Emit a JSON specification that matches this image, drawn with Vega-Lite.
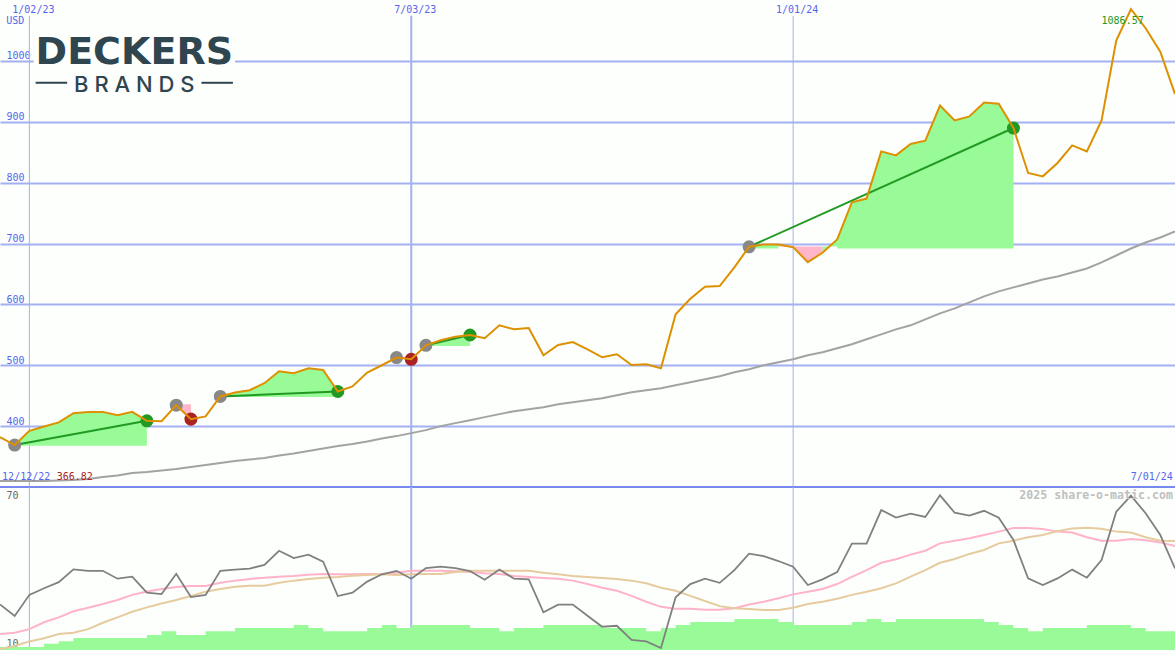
{
  "$schema": "https://vega.github.io/schema/vega-lite/v6.json",
  "width": 1175,
  "height": 650,
  "padding": 0,
  "autosize": {"type": "none"},
  "background": "#fdfffc",
  "config": {
    "view": {"stroke": null},
    "axis": {"ticks": false, "domain": false, "labelFont": "DejaVu Sans Mono", "labelFontSize": 10, "labelOverlap": false, "labelFlush": false, "labelBound": false}
  },
  "datasets": {
    "weekly": [
      {"date":"2022-12-19","price":382,"ma":309.8,"rsi":27.4,"fast":15.3,"slow":9.2,"vol":10},
      {"date":"2022-12-26","price":368.9,"ma":309.8,"rsi":22.7,"fast":15.8,"slow":10.4,"vol":10},
      {"date":"2023-01-02","price":392.3,"ma":309.8,"rsi":31.3,"fast":17.3,"slow":12.3,"vol":10},
      {"date":"2023-01-09","price":399.5,"ma":309.8,"rsi":34,"fast":20.1,"slow":13.6,"vol":11.3},
      {"date":"2023-01-16","price":406.1,"ma":310.7,"rsi":36.5,"fast":22.1,"slow":15.3,"vol":12.4},
      {"date":"2023-01-23","price":421.3,"ma":311.5,"rsi":41.7,"fast":24.6,"slow":15.8,"vol":13.7},
      {"date":"2023-01-30","price":423.4,"ma":313.1,"rsi":41.1,"fast":26,"slow":17.3,"vol":13.7},
      {"date":"2023-02-06","price":423.4,"ma":316.4,"rsi":41.1,"fast":27.6,"slow":19.9,"vol":13.7},
      {"date":"2023-02-13","price":418,"ma":318.9,"rsi":37.9,"fast":29.2,"slow":22.1,"vol":13.7},
      {"date":"2023-02-20","price":423.4,"ma":323,"rsi":38.7,"fast":31.3,"slow":24.4,"vol":13.7},
      {"date":"2023-02-27","price":408.7,"ma":324.6,"rsi":32.2,"fast":32.7,"slow":26.2,"vol":14.9},
      {"date":"2023-03-06","price":408.2,"ma":327,"rsi":31.6,"fast":33.7,"slow":27.8,"vol":16.5},
      {"date":"2023-03-13","price":434.4,"ma":329.5,"rsi":39.9,"fast":34.5,"slow":29.2,"vol":14.9},
      {"date":"2023-03-20","price":411.5,"ma":332.8,"rsi":30.4,"fast":34.9,"slow":30.8,"vol":14.9},
      {"date":"2023-03-27","price":415.9,"ma":336.1,"rsi":31.3,"fast":34.9,"slow":32.6,"vol":16.5},
      {"date":"2023-04-03","price":448.7,"ma":339.3,"rsi":41.1,"fast":36.2,"slow":33.7,"vol":16.5},
      {"date":"2023-04-10","price":455.2,"ma":342.6,"rsi":41.6,"fast":37.1,"slow":34.6,"vol":17.8},
      {"date":"2023-04-17","price":459,"ma":345.1,"rsi":42,"fast":37.8,"slow":35,"vol":17.8},
      {"date":"2023-04-24","price":470.5,"ma":347.5,"rsi":43.5,"fast":38.3,"slow":35,"vol":17.8},
      {"date":"2023-05-01","price":490.2,"ma":351.6,"rsi":49.3,"fast":38.7,"slow":36.2,"vol":17.8},
      {"date":"2023-05-08","price":486.9,"ma":354.9,"rsi":46.3,"fast":39,"slow":37.1,"vol":19},
      {"date":"2023-05-15","price":495,"ma":359,"rsi":47.7,"fast":39.5,"slow":37.8,"vol":17.8},
      {"date":"2023-05-22","price":492.3,"ma":363.1,"rsi":44.8,"fast":39.8,"slow":38.3,"vol":16.5},
      {"date":"2023-05-29","price":456.9,"ma":367.2,"rsi":30.8,"fast":39.7,"slow":38.6,"vol":16.5},
      {"date":"2023-06-05","price":465.1,"ma":370.5,"rsi":32.2,"fast":39.7,"slow":39.1,"vol":16.5},
      {"date":"2023-06-12","price":488,"ma":374.6,"rsi":36.7,"fast":39.8,"slow":39.4,"vol":17.8},
      {"date":"2023-06-19","price":500,"ma":379.5,"rsi":39.7,"fast":39.8,"slow":39.7,"vol":19},
      {"date":"2023-06-26","price":512.6,"ma":383.6,"rsi":41.1,"fast":40.3,"slow":39.4,"vol":17.8},
      {"date":"2023-07-03","price":509.8,"ma":388.5,"rsi":37.9,"fast":41.1,"slow":39.7,"vol":19},
      {"date":"2023-07-10","price":532.8,"ma":393.4,"rsi":42.2,"fast":41.1,"slow":39.8,"vol":19},
      {"date":"2023-07-17","price":541,"ma":400,"rsi":42.8,"fast":41.1,"slow":39.8,"vol":19},
      {"date":"2023-07-24","price":547,"ma":404.9,"rsi":42.2,"fast":40.9,"slow":40.6,"vol":19},
      {"date":"2023-07-31","price":549.7,"ma":409.8,"rsi":41,"fast":40.6,"slow":41.1,"vol":17.8},
      {"date":"2023-08-07","price":544.3,"ma":414.8,"rsi":37.5,"fast":40.1,"slow":41.1,"vol":17.8},
      {"date":"2023-08-14","price":565.6,"ma":419.7,"rsi":41.6,"fast":39.8,"slow":41.1,"vol":16.5},
      {"date":"2023-08-21","price":559,"ma":424.6,"rsi":37.9,"fast":39,"slow":41.1,"vol":17.8},
      {"date":"2023-08-28","price":561.1,"ma":427.9,"rsi":37.6,"fast":38.6,"slow":41.1,"vol":17.8},
      {"date":"2023-09-04","price":516.4,"ma":431.1,"rsi":24.2,"fast":38.2,"slow":40.3,"vol":19},
      {"date":"2023-09-11","price":533.3,"ma":436.1,"rsi":27.3,"fast":37.9,"slow":39.7,"vol":19},
      {"date":"2023-09-18","price":538.2,"ma":439.3,"rsi":27.3,"fast":37.1,"slow":39,"vol":19},
      {"date":"2023-09-25","price":526.2,"ma":442.6,"rsi":22.8,"fast":35.7,"slow":38.6,"vol":19},
      {"date":"2023-10-02","price":513.1,"ma":445.9,"rsi":18.3,"fast":34.2,"slow":38.2,"vol":17.8},
      {"date":"2023-10-09","price":518,"ma":450.8,"rsi":18.7,"fast":33,"slow":37.8,"vol":17.8},
      {"date":"2023-10-16","price":500.5,"ma":455.7,"rsi":12.9,"fast":30.9,"slow":37.1,"vol":17.8},
      {"date":"2023-10-23","price":501.6,"ma":459,"rsi":12.3,"fast":28.5,"slow":36,"vol":16.5},
      {"date":"2023-10-30","price":495.1,"ma":462.3,"rsi":9.6,"fast":26.4,"slow":34.2,"vol":17.8},
      {"date":"2023-11-06","price":583.6,"ma":467.2,"rsi":30.3,"fast":25.6,"slow":33,"vol":19},
      {"date":"2023-11-13","price":609.3,"ma":472.1,"rsi":35.7,"fast":25.6,"slow":30.9,"vol":20.2},
      {"date":"2023-11-20","price":629,"ma":477,"rsi":37.9,"fast":25.2,"slow":28.8,"vol":20.2},
      {"date":"2023-11-27","price":630,"ma":482,"rsi":36.2,"fast":25.2,"slow":26.7,"vol":20.2},
      {"date":"2023-12-04","price":660.7,"ma":488.5,"rsi":41.4,"fast":25.8,"slow":25.8,"vol":21.4},
      {"date":"2023-12-11","price":694.6,"ma":493.4,"rsi":48.1,"fast":27.4,"slow":25.5,"vol":21.4},
      {"date":"2023-12-18","price":698.4,"ma":500,"rsi":47.1,"fast":28.5,"slow":25.1,"vol":21.4},
      {"date":"2023-12-25","price":698.4,"ma":504.9,"rsi":45.1,"fast":29.9,"slow":25.1,"vol":20.2},
      {"date":"2024-01-01","price":694,"ma":509.8,"rsi":42.8,"fast":31.5,"slow":26,"vol":19},
      {"date":"2024-01-08","price":669.3,"ma":516.4,"rsi":35.3,"fast":32.6,"slow":27.6,"vol":19},
      {"date":"2024-01-15","price":684.8,"ma":521.3,"rsi":37.6,"fast":33.7,"slow":28.5,"vol":19},
      {"date":"2024-01-22","price":706.6,"ma":527.9,"rsi":40.6,"fast":35.7,"slow":29.7,"vol":19},
      {"date":"2024-01-29","price":767.7,"ma":534.4,"rsi":52.2,"fast":38.6,"slow":31.3,"vol":20.2},
      {"date":"2024-02-05","price":773.8,"ma":542.6,"rsi":52.2,"fast":41.4,"slow":32.6,"vol":21.4},
      {"date":"2024-02-12","price":851.3,"ma":550.8,"rsi":65.9,"fast":44.4,"slow":34,"vol":20.2},
      {"date":"2024-02-19","price":844.8,"ma":559,"rsi":62.8,"fast":45.8,"slow":36,"vol":21.4},
      {"date":"2024-02-26","price":863.4,"ma":565.6,"rsi":64.4,"fast":47.7,"slow":38.7,"vol":21.4},
      {"date":"2024-03-04","price":868.9,"ma":575.4,"rsi":63.1,"fast":49.3,"slow":41.4,"vol":21.4},
      {"date":"2024-03-11","price":926.7,"ma":585.2,"rsi":71.9,"fast":52.3,"slow":44.4,"vol":21.4},
      {"date":"2024-03-18","price":902.1,"ma":593.4,"rsi":64.8,"fast":53.4,"slow":45.9,"vol":21.4},
      {"date":"2024-03-25","price":908.7,"ma":603.3,"rsi":63.6,"fast":54.4,"slow":48,"vol":21.4},
      {"date":"2024-04-01","price":931.6,"ma":613.1,"rsi":65.6,"fast":55.7,"slow":49.6,"vol":20.2},
      {"date":"2024-04-08","price":929.5,"ma":621.3,"rsi":62.8,"fast":57.1,"slow":52.3,"vol":19},
      {"date":"2024-04-15","price":889.7,"ma":627.9,"rsi":53.7,"fast":58.6,"slow":53.4,"vol":17.8},
      {"date":"2024-04-22","price":815.9,"ma":634.4,"rsi":38,"fast":58.6,"slow":54.8,"vol":16.5},
      {"date":"2024-04-29","price":810.3,"ma":641,"rsi":35.3,"fast":58.2,"slow":55.7,"vol":17.8},
      {"date":"2024-05-06","price":832.3,"ma":645.9,"rsi":38,"fast":57.1,"slow":57.3,"vol":17.8},
      {"date":"2024-05-13","price":861.1,"ma":652.5,"rsi":41.6,"fast":56.7,"slow":58.4,"vol":17.8},
      {"date":"2024-05-20","price":851.3,"ma":659,"rsi":38.3,"fast":54.8,"slow":58.7,"vol":19},
      {"date":"2024-05-27","price":902.1,"ma":668.9,"rsi":45.5,"fast":53.4,"slow":58.3,"vol":19},
      {"date":"2024-06-03","price":1033.3,"ma":680.3,"rsi":65.2,"fast":53.4,"slow":57.1,"vol":19},
      {"date":"2024-06-10","price":1084.8,"ma":691.8,"rsi":71.8,"fast":54.1,"slow":56.7,"vol":17.8},
      {"date":"2024-06-17","price":1053.6,"ma":701.6,"rsi":64.6,"fast":53.6,"slow":54.8,"vol":16.5},
      {"date":"2024-06-24","price":1015.2,"ma":709.8,"rsi":55.7,"fast":52.7,"slow":53.4,"vol":16.5},
      {"date":"2024-07-01","price":945.4,"ma":719.7,"rsi":42.1,"fast":51.2,"slow":53.3,"vol":16.5}
    ],
    "gains": [
      {"trade":"t1","date":"2022-12-26","price":368.9,"base":367.7},
      {"trade":"t1","date":"2023-01-02","price":392.3,"base":367.7},
      {"trade":"t1","date":"2023-01-09","price":399.5,"base":367.7},
      {"trade":"t1","date":"2023-01-16","price":406.1,"base":367.7},
      {"trade":"t1","date":"2023-01-23","price":421.3,"base":367.7},
      {"trade":"t1","date":"2023-01-30","price":423.4,"base":367.7},
      {"trade":"t1","date":"2023-02-06","price":423.4,"base":367.7},
      {"trade":"t1","date":"2023-02-13","price":418,"base":367.7},
      {"trade":"t1","date":"2023-02-20","price":423.4,"base":367.7},
      {"trade":"t1","date":"2023-02-27","price":408.7,"base":367.7},
      {"trade":"t3","date":"2023-04-03","price":448.7,"base":448},
      {"trade":"t3","date":"2023-04-10","price":455.2,"base":448},
      {"trade":"t3","date":"2023-04-17","price":459,"base":448},
      {"trade":"t3","date":"2023-04-24","price":470.5,"base":448},
      {"trade":"t3","date":"2023-05-01","price":490.2,"base":448},
      {"trade":"t3","date":"2023-05-08","price":486.9,"base":448},
      {"trade":"t3","date":"2023-05-15","price":495,"base":448},
      {"trade":"t3","date":"2023-05-22","price":492.3,"base":448},
      {"trade":"t3","date":"2023-05-29","price":456.9,"base":448},
      {"trade":"t5","date":"2023-07-10","price":532.8,"base":531.6},
      {"trade":"t5","date":"2023-07-17","price":541,"base":531.6},
      {"trade":"t5","date":"2023-07-24","price":547,"base":531.6},
      {"trade":"t5","date":"2023-07-31","price":549.7,"base":531.6},
      {"trade":"t6a","date":"2023-12-11","price":694.6,"base":691.8},
      {"trade":"t6a","date":"2023-12-18","price":698.4,"base":691.8},
      {"trade":"t6a","date":"2023-12-25","price":698.4,"base":691.8},
      {"trade":"t6b","date":"2024-01-15","price":684.8,"base":695},
      {"trade":"t6b","date":"2024-01-22","price":706.6,"base":695},
      {"trade":"t6c","date":"2024-01-22","price":706.6,"base":691.8},
      {"trade":"t6c","date":"2024-01-29","price":767.7,"base":691.8},
      {"trade":"t6c","date":"2024-02-05","price":773.8,"base":691.8},
      {"trade":"t6c","date":"2024-02-12","price":851.3,"base":691.8},
      {"trade":"t6c","date":"2024-02-19","price":844.8,"base":691.8},
      {"trade":"t6c","date":"2024-02-26","price":863.4,"base":691.8},
      {"trade":"t6c","date":"2024-03-04","price":868.9,"base":691.8},
      {"trade":"t6c","date":"2024-03-11","price":926.7,"base":691.8},
      {"trade":"t6c","date":"2024-03-18","price":902.1,"base":691.8},
      {"trade":"t6c","date":"2024-03-25","price":908.7,"base":691.8},
      {"trade":"t6c","date":"2024-04-01","price":931.6,"base":691.8},
      {"trade":"t6c","date":"2024-04-08","price":929.5,"base":691.8},
      {"trade":"t6c","date":"2024-04-15","price":889.7,"base":691.8}
    ],
    "losses": [
      {"trade":"t2","date":"2023-03-13","price":434.4,"base":436.1},
      {"trade":"t2","date":"2023-03-20","price":411.5,"base":436.1},
      {"trade":"t4","date":"2023-06-26","price":512.6,"base":514},
      {"trade":"t4","date":"2023-07-03","price":509.8,"base":514},
      {"trade":"t6d","date":"2023-12-25","price":698.4,"base":695},
      {"trade":"t6d","date":"2024-01-01","price":694,"base":695},
      {"trade":"t6e","date":"2024-01-01","price":694,"base":695},
      {"trade":"t6e","date":"2024-01-08","price":669.3,"base":695},
      {"trade":"t6e","date":"2024-01-15","price":684.8,"base":695}
    ],
    "signals": [
      {"trade":"t1","date":"2022-12-26","price":368.9,"kind":"entry"},
      {"trade":"t1","date":"2023-02-27","price":408.7,"kind":"win"},
      {"trade":"t2","date":"2023-03-13","price":434.4,"kind":"entry"},
      {"trade":"t2","date":"2023-03-20","price":411.5,"kind":"loss"},
      {"trade":"t3","date":"2023-04-03","price":448.7,"kind":"entry"},
      {"trade":"t3","date":"2023-05-29","price":456.9,"kind":"win"},
      {"trade":"t4","date":"2023-06-26","price":512.6,"kind":"entry"},
      {"trade":"t4","date":"2023-07-03","price":509.8,"kind":"loss"},
      {"trade":"t5","date":"2023-07-10","price":532.8,"kind":"entry"},
      {"trade":"t5","date":"2023-07-31","price":549.7,"kind":"win"},
      {"trade":"t6","date":"2023-12-11","price":694.6,"kind":"entry"},
      {"trade":"t6","date":"2024-04-15","price":889.7,"kind":"win"}
    ]
  },
  "resolve": {"scale": {"y": "independent"}},
  "layer": [
    {
      "layer": [
        {
          "data": {"values": [{"date":"2023-01-02"},{"date":"2024-01-01"}]},
          "mark": {"type": "rule", "color": "#a3b0f2", "strokeWidth": 1},
          "encoding": {
            "x": {
              "field": "date", "type": "temporal",
              "scale": {"type": "utc", "domain": [{"year":2022,"month":12,"date":19,"utc":true},{"year":2024,"month":7,"date":1,"utc":true}]},
              "axis": {
                "orient": "top", "title": null, "grid": false, "zindex": 0,
                "values": [{"year":2023,"month":1,"date":2,"utc":true},{"year":2023,"month":7,"date":3,"utc":true},{"year":2024,"month":1,"date":1,"utc":true}],
                "labelExpr": "utcFormat(datum.value, '%-m/%d/%y')",
                "labelColor": "#5566ee", "labelPadding": -14, "labelBaseline": "bottom", "labelOffset": 3.5
              }
            },
            "y": {
              "datum": 1074, "type": "quantitative",
              "scale": {"domain": [300, 1100], "range": [487, 0], "nice": false, "zero": false},
              "axis": {
                "orient": "left", "title": null, "grid": true, "gridColor": "#a3b0f2", "gridWidth": 2, "zindex": 0,
                "values": [400, 500, 600, 700, 800, 900, 1000],
                "format": "d",
                "labelColor": "#5566ee", "labelAlign": "left", "labelPadding": -6, "labelBaseline": "bottom"
              }
            },
            "y2": {"datum": 300}
          }
        },
        {
          "data": {"values": [{"date":"2023-07-03"}]},
          "mark": {"type": "rule", "color": "#a3b0f2", "strokeWidth": 2},
          "encoding": {
            "x": {"field": "date", "type": "temporal"},
            "y": {"datum": 1074, "type": "quantitative"},
            "y2": {"datum": 300}
          }
        },
        {
          "data": {"values": [{}]},
          "mark": {"type": "rule", "color": "#7788ee", "strokeWidth": 2},
          "encoding": {"y": {"datum": 300, "type": "quantitative"}}
        },
        {
          "data": {"name": "weekly"},
          "mark": {"type": "line", "color": "#a3a3a3", "strokeWidth": 2},
          "encoding": {
            "x": {"field": "date", "type": "temporal"},
            "y": {"field": "ma", "type": "quantitative"}
          }
        },
        {
          "data": {"name": "gains"},
          "mark": {"type": "area", "color": "#98fb98", "opacity": 1},
          "encoding": {
            "x": {"field": "date", "type": "temporal"},
            "y": {"field": "price", "type": "quantitative"},
            "y2": {"field": "base"},
            "detail": {"field": "trade"}
          }
        },
        {
          "data": {"name": "losses"},
          "mark": {"type": "area", "color": "#ffb6c8", "opacity": 1},
          "encoding": {
            "x": {"field": "date", "type": "temporal"},
            "y": {"field": "price", "type": "quantitative"},
            "y2": {"field": "base"},
            "detail": {"field": "trade"}
          }
        },
        {
          "data": {"name": "signals"},
          "transform": [{"filter": "datum.trade == 't1' || datum.trade == 't3' || datum.trade == 't5' || datum.trade == 't6'"}],
          "mark": {"type": "line", "color": "#229922", "strokeWidth": 2},
          "encoding": {
            "x": {"field": "date", "type": "temporal"},
            "y": {"field": "price", "type": "quantitative"},
            "detail": {"field": "trade"}
          }
        },
        {
          "data": {"name": "signals"},
          "mark": {"type": "point", "filled": true, "opacity": 1, "size": 170},
          "encoding": {
            "x": {"field": "date", "type": "temporal"},
            "y": {"field": "price", "type": "quantitative"},
            "color": {
              "field": "kind", "type": "nominal", "legend": null,
              "scale": {"domain": ["entry", "win", "loss"], "range": ["#888888", "#229922", "#aa2222"]}
            }
          }
        },
        {
          "data": {"name": "weekly"},
          "mark": {"type": "line", "color": "#dd9000", "strokeWidth": 2},
          "encoding": {
            "x": {"field": "date", "type": "temporal"},
            "y": {"field": "price", "type": "quantitative"}
          }
        },
        {
          "data": {"values": [{}]},
          "mark": {"type": "rect", "color": "#fdfffc"},
          "encoding": {
            "x": {"datum": {"year":2023,"month":1,"date":4,"utc":true}, "type": "temporal"},
            "x2": {"datum": {"year":2023,"month":4,"date":10,"utc":true}},
            "y": {"datum": 1060, "type": "quantitative"},
            "y2": {"datum": 950}
          }
        },
        {
          "data": {"values": [{"date":"2023-02-21","value":1013,"label":"DECKERS"}]},
          "mark": {"type": "text", "font": "DejaVu Sans", "fontWeight": "bold", "fontSize": 38, "color": "#2f4550", "align": "center", "baseline": "middle"},
          "encoding": {
            "x": {"field": "date", "type": "temporal"},
            "y": {"field": "value", "type": "quantitative"},
            "text": {"field": "label"}
          }
        },
        {
          "data": {"values": [{"date":"2023-02-21","value":960,"label":"B R A N D S"}]},
          "mark": {"type": "text", "font": "Inter", "fontWeight": 500, "fontSize": 22, "color": "#2f4550", "align": "center", "baseline": "middle"},
          "encoding": {
            "x": {"field": "date", "type": "temporal"},
            "y": {"field": "value", "type": "quantitative"},
            "text": {"field": "label"}
          }
        },
        {
          "data": {"values": [{"from":"2023-01-05","to":"2023-01-20","value":964},{"from":"2023-03-25","to":"2023-04-09","value":964}]},
          "mark": {"type": "rule", "color": "#2f4550", "strokeWidth": 2},
          "encoding": {
            "x": {"field": "from", "type": "temporal"},
            "x2": {"field": "to"},
            "y": {"field": "value", "type": "quantitative"}
          }
        },
        {
          "data": {"values": [{"date":"2022-12-22","value":1065.6,"label":"USD"},{"date":"2022-12-20","value":316.4,"label":"12/12/22"}]},
          "mark": {"type": "text", "font": "DejaVu Sans Mono", "fontSize": 10, "color": "#5566ee", "align": "left", "baseline": "middle"},
          "encoding": {
            "x": {"field": "date", "type": "temporal"},
            "y": {"field": "value", "type": "quantitative"},
            "text": {"field": "label"}
          }
        },
        {
          "data": {"values": [{"date":"2024-06-30","value":316.4,"label":"7/01/24"}]},
          "mark": {"type": "text", "font": "DejaVu Sans Mono", "fontSize": 10, "color": "#5566ee", "align": "right", "baseline": "middle"},
          "encoding": {
            "x": {"field": "date", "type": "temporal"},
            "y": {"field": "value", "type": "quantitative"},
            "text": {"field": "label"}
          }
        },
        {
          "data": {"values": [{"date":"2023-01-15","value":316.4,"label":"366.82"}]},
          "mark": {"type": "text", "font": "DejaVu Sans Mono", "fontSize": 10, "color": "#aa2222", "align": "left", "baseline": "middle"},
          "encoding": {
            "x": {"field": "date", "type": "temporal"},
            "y": {"field": "value", "type": "quantitative"},
            "text": {"field": "label"}
          }
        },
        {
          "data": {"values": [{"date":"2024-05-27","value":1065.6,"label":"1086.57"}]},
          "mark": {"type": "text", "font": "DejaVu Sans Mono", "fontSize": 10, "color": "#229922", "align": "left", "baseline": "middle"},
          "encoding": {
            "x": {"field": "date", "type": "temporal"},
            "y": {"field": "value", "type": "quantitative"},
            "text": {"field": "label"}
          }
        }
      ]
    },
    {
      "layer": [
        {
          "data": {"values": [{"date":"2023-01-02"},{"date":"2024-01-01"}]},
          "mark": {"type": "rule", "color": "#a3b0f2", "strokeWidth": 1},
          "encoding": {
            "x": {"field": "date", "type": "temporal"},
            "y": {
              "datum": 75.3, "type": "quantitative",
              "scale": {"domain": [8.8, 75.3], "range": [650, 487], "nice": false, "zero": false},
              "axis": {
                "orient": "left", "title": null, "grid": false, "zindex": 0,
                "values": [10, 70],
                "labelColor": "#666666", "labelAlign": "left", "labelPadding": -6, "labelBaseline": "bottom", "labelOffset": 1
              }
            },
            "y2": {"datum": 8.8}
          }
        },
        {
          "data": {"values": [{"date":"2023-07-03"}]},
          "mark": {"type": "rule", "color": "#a3b0f2", "strokeWidth": 2},
          "encoding": {
            "x": {"field": "date", "type": "temporal"},
            "y": {"datum": 75.3, "type": "quantitative"},
            "y2": {"datum": 8.8}
          }
        },
        {
          "data": {"name": "weekly"},
          "mark": {"type": "area", "color": "#98fb98", "opacity": 1, "interpolate": "step-after"},
          "encoding": {
            "x": {"field": "date", "type": "temporal"},
            "y": {"field": "vol", "type": "quantitative"},
            "y2": {"datum": 8.8}
          }
        },
        {
          "data": {"name": "weekly"},
          "mark": {"type": "line", "color": "#ffb3c8", "strokeWidth": 2},
          "encoding": {
            "x": {"field": "date", "type": "temporal"},
            "y": {"field": "fast", "type": "quantitative"}
          }
        },
        {
          "data": {"name": "weekly"},
          "mark": {"type": "line", "color": "#e6cb9f", "strokeWidth": 2},
          "encoding": {
            "x": {"field": "date", "type": "temporal"},
            "y": {"field": "slow", "type": "quantitative"}
          }
        },
        {
          "data": {"name": "weekly"},
          "mark": {"type": "line", "color": "#808080", "strokeWidth": 1.8},
          "encoding": {
            "x": {"field": "date", "type": "temporal"},
            "y": {"field": "rsi", "type": "quantitative"}
          }
        },
        {
          "data": {"values": [{"date":"2024-06-30","value":71.6,"label":"2025 share-o-matic.com"}]},
          "mark": {"type": "text", "font": "DejaVu Sans Mono", "fontSize": 11.6, "fontWeight": "bold", "color": "#c0c0c0", "align": "right", "baseline": "middle"},
          "encoding": {
            "x": {"field": "date", "type": "temporal"},
            "y": {"field": "value", "type": "quantitative"},
            "text": {"field": "label"}
          }
        }
      ]
    }
  ]
}
